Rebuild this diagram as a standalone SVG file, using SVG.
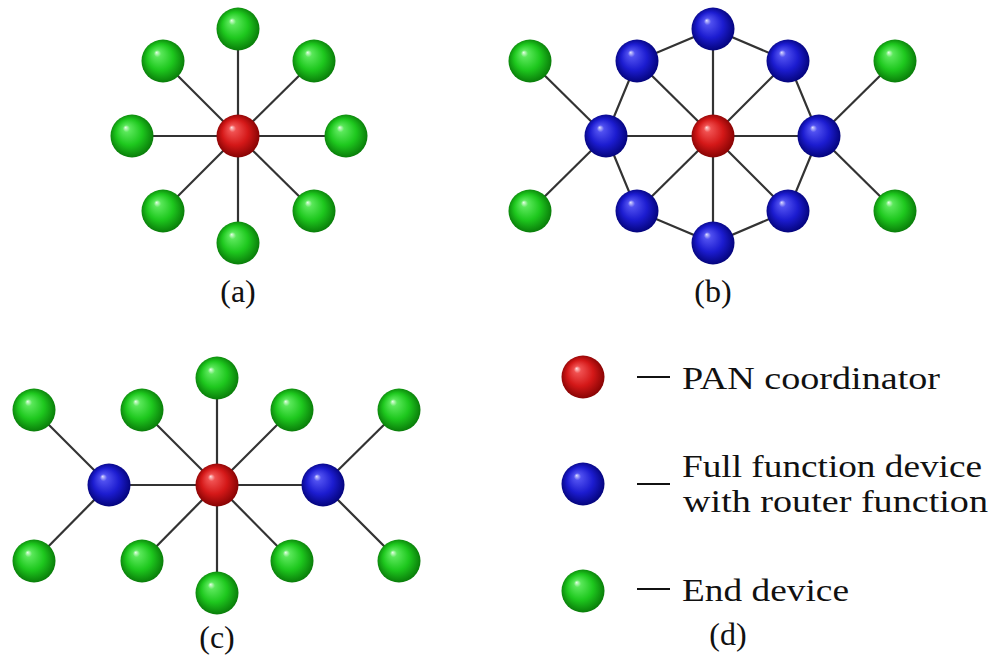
<svg xmlns="http://www.w3.org/2000/svg" width="1003" height="661" viewBox="0 0 1003 661">
<style>
.e{stroke:#333;stroke-width:2.2;fill:none}
.t{font-family:'Liberation Serif','Times New Roman','DejaVu Serif',serif;font-size:32px;fill:#111}
.d{stroke:#111;stroke-width:2.2}
.r{fill:url(#gr)}.b{fill:url(#gb)}.g{fill:url(#gg)}
</style>
<defs>
<radialGradient id="gr" cx="0.5" cy="0.5" r="0.55" fx="0.35" fy="0.3">
<stop offset="0" stop-color="#ffdede"/><stop offset="0.15" stop-color="#f05050"/><stop offset="0.55" stop-color="#d41818"/><stop offset="1" stop-color="#7a0000"/>
</radialGradient>
<radialGradient id="gb" cx="0.5" cy="0.5" r="0.55" fx="0.35" fy="0.3">
<stop offset="0" stop-color="#dedeff"/><stop offset="0.15" stop-color="#5050f0"/><stop offset="0.55" stop-color="#1c1cd0"/><stop offset="1" stop-color="#00006e"/>
</radialGradient>
<radialGradient id="gg" cx="0.5" cy="0.5" r="0.55" fx="0.35" fy="0.3">
<stop offset="0" stop-color="#e6ffe6"/><stop offset="0.15" stop-color="#5ae85a"/><stop offset="0.55" stop-color="#1ec81e"/><stop offset="1" stop-color="#067006"/>
</radialGradient>
</defs>
<rect width="1003" height="661" fill="#fff"/>
<g id="connectors">
<line class="e" x1="238" y1="136" x2="238" y2="29"/>
<line class="e" x1="238" y1="136" x2="238" y2="243"/>
<line class="e" x1="238" y1="136" x2="132" y2="136"/>
<line class="e" x1="238" y1="136" x2="346" y2="136"/>
<line class="e" x1="238" y1="136" x2="163" y2="61"/>
<line class="e" x1="238" y1="136" x2="314" y2="61"/>
<line class="e" x1="238" y1="136" x2="163" y2="211"/>
<line class="e" x1="238" y1="136" x2="314" y2="211"/>
<line class="e" x1="713" y1="136" x2="713" y2="29"/>
<line class="e" x1="713" y1="136" x2="713" y2="243"/>
<line class="e" x1="713" y1="136" x2="606" y2="136"/>
<line class="e" x1="713" y1="136" x2="819" y2="136"/>
<line class="e" x1="713" y1="136" x2="637" y2="61"/>
<line class="e" x1="713" y1="136" x2="788" y2="61"/>
<line class="e" x1="713" y1="136" x2="637" y2="211"/>
<line class="e" x1="713" y1="136" x2="788" y2="211"/>
<polygon class="e" points="713,29 788,61 819,136 788,211 713,243 637,211 606,136 637,61"/>
<line class="e" x1="606" y1="136" x2="530" y2="61"/>
<line class="e" x1="606" y1="136" x2="530" y2="211"/>
<line class="e" x1="819" y1="136" x2="895" y2="61"/>
<line class="e" x1="819" y1="136" x2="895" y2="211"/>
<line class="e" x1="217" y1="485" x2="217" y2="378"/>
<line class="e" x1="217" y1="485" x2="217" y2="593"/>
<line class="e" x1="217" y1="485" x2="142" y2="410"/>
<line class="e" x1="217" y1="485" x2="292" y2="410"/>
<line class="e" x1="217" y1="485" x2="142" y2="561"/>
<line class="e" x1="217" y1="485" x2="292" y2="561"/>
<line class="e" x1="109" y1="485" x2="323" y2="485"/>
<line class="e" x1="109" y1="485" x2="34" y2="410"/>
<line class="e" x1="109" y1="485" x2="34" y2="561"/>
<line class="e" x1="323" y1="485" x2="399" y2="410"/>
<line class="e" x1="323" y1="485" x2="399" y2="561"/>
</g>
<g id="net-a">
<circle class="r" cx="238" cy="136" r="21.5"/>
<circle class="g" cx="238" cy="29" r="21.5"/>
<circle class="g" cx="238" cy="243" r="21.5"/>
<circle class="g" cx="132" cy="136" r="21.5"/>
<circle class="g" cx="346" cy="136" r="21.5"/>
<circle class="g" cx="163" cy="61" r="21.5"/>
<circle class="g" cx="314" cy="61" r="21.5"/>
<circle class="g" cx="163" cy="211" r="21.5"/>
<circle class="g" cx="314" cy="211" r="21.5"/>
<text class="t" x="238" y="302" text-anchor="middle" font-family="Liberation Serif, serif">(a)</text>
</g>
<g id="net-b">
<circle class="r" cx="713" cy="136" r="21.5"/>
<circle class="b" cx="713" cy="29" r="21.5"/>
<circle class="b" cx="713" cy="243" r="21.5"/>
<circle class="b" cx="606" cy="136" r="21.5"/>
<circle class="b" cx="819" cy="136" r="21.5"/>
<circle class="b" cx="637" cy="61" r="21.5"/>
<circle class="b" cx="788" cy="61" r="21.5"/>
<circle class="b" cx="637" cy="211" r="21.5"/>
<circle class="b" cx="788" cy="211" r="21.5"/>
<circle class="g" cx="530" cy="61" r="21.5"/>
<circle class="g" cx="530" cy="211" r="21.5"/>
<circle class="g" cx="895" cy="61" r="21.5"/>
<circle class="g" cx="895" cy="211" r="21.5"/>
<text class="t" x="713" y="302" text-anchor="middle">(b)</text>
</g>
<g id="net-c">
<circle class="r" cx="217" cy="485" r="21.5"/>
<circle class="b" cx="109" cy="485" r="21.5"/>
<circle class="b" cx="323" cy="485" r="21.5"/>
<circle class="g" cx="217" cy="378" r="21.5"/>
<circle class="g" cx="217" cy="593" r="21.5"/>
<circle class="g" cx="142" cy="410" r="21.5"/>
<circle class="g" cx="292" cy="410" r="21.5"/>
<circle class="g" cx="142" cy="561" r="21.5"/>
<circle class="g" cx="292" cy="561" r="21.5"/>
<circle class="g" cx="34" cy="410" r="21.5"/>
<circle class="g" cx="34" cy="561" r="21.5"/>
<circle class="g" cx="399" cy="410" r="21.5"/>
<circle class="g" cx="399" cy="561" r="21.5"/>
<text class="t" x="217" y="648" text-anchor="middle">(c)</text>
</g>
<g id="legend">
<circle class="r" cx="583" cy="377" r="21.5"/>
<line class="d" x1="637" y1="377" x2="670" y2="377"/>
<text class="t" x="682" y="389" textLength="258" lengthAdjust="spacingAndGlyphs">PAN coordinator</text>
<circle class="b" cx="583" cy="484" r="21.5"/>
<line class="d" x1="637" y1="484" x2="670" y2="484"/>
<text class="t" x="682" y="477" textLength="300" lengthAdjust="spacingAndGlyphs">Full function device</text>
<text class="t" x="683" y="512" textLength="305" lengthAdjust="spacingAndGlyphs">with router function</text>
<circle class="g" cx="583" cy="591" r="21.5"/>
<line class="d" x1="637" y1="589" x2="670" y2="589"/>
<text class="t" x="682" y="601" textLength="167" lengthAdjust="spacingAndGlyphs">End device</text>
<text class="t" x="728" y="645" text-anchor="middle">(d)</text>
</g>
</svg>
